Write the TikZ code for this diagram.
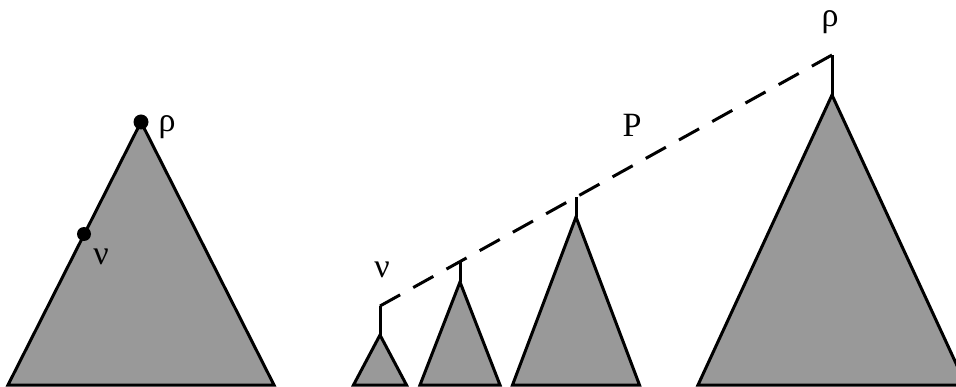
\documentclass[tikz,border=0pt]{standalone}
\usepackage{fontspec}
\setmainfont{Liberation Serif}
\definecolor{treegray}{gray}{0.6}
\begin{document}
\begin{tikzpicture}[x=1pt,y=-1pt,
  tree/.style={fill=treegray, draw=black, line width=3pt, line join=miter},
  stem/.style={draw=black, line width=3pt},
  pathline/.style={draw=black, line width=3pt, dash pattern=on 23pt off 15pt},
  lbl/.style={font=\fontsize{34}{40}\selectfont, inner sep=0pt},
  dot/.style={circle, fill=black, inner sep=0pt, minimum size=15pt}]
\useasboundingbox (0,0) rectangle (956,387);
\clip (0,0) rectangle (956,387);

% left tree
\coordinate (aL) at (141,122);
\path[tree] (aL) -- (274,385) -- (8,385) -- cycle;
\node[dot] (rootL) at (aL) {};
\node[dot, minimum size=14pt] (vL) at (84,234) {};
\node[lbl] (rhoL) at (167,127) {ρ};
\node[lbl] (nuL) at (101,257) {ν};

% right: path P with hanging subtrees
\coordinate (a1) at (380,335);
\coordinate (a2) at (460,282);
\coordinate (a3) at (576,217);
\coordinate (a4) at (832,95);
\coordinate (t1) at (380,306);
\coordinate (t2) at (460,261.6);
\coordinate (t3) at (576,197.2);
\coordinate (t4) at (832,55);

\path[tree] (a1) -- (406.5,385) -- (353.5,385) -- cycle;
\path[tree] (a2) -- (500,385) -- (420,385) -- cycle;
\path[tree] (a3) -- (639.5,385) -- (512.5,385) -- cycle;
\path[tree] (a4) -- (966,385) -- (698,385) -- cycle;

\draw[stem] (a1) -- (t1);
\draw[stem] (a2) -- (t2);
\draw[stem] (a3) -- (t3);
\draw[stem] (a4) -- (t4);
\draw[pathline] (t1) -- (t4);

\node[lbl] (nuR) at (382,270) {ν};
\node[lbl] (P) at (632,125) {P};
\node[lbl] (rhoR) at (830,22) {ρ};
\end{tikzpicture}
\end{document}
